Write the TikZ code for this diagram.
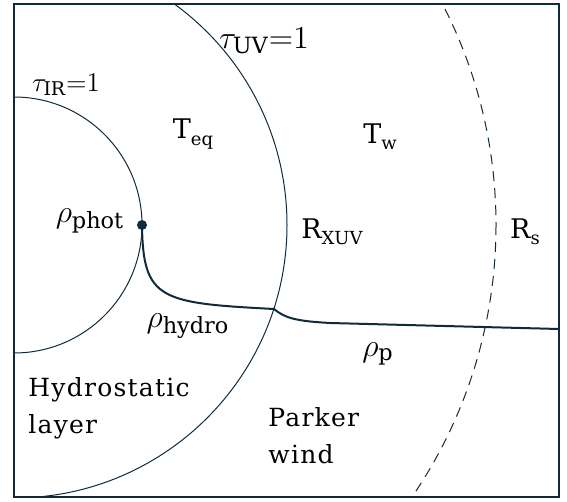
\RequirePackage{fix-cm}
\documentclass[tikz,border=0pt]{standalone}
\usepackage{fontspec}
\setmainfont{DejaVu Serif}
\newfontfamily\regionfont[LetterSpace=5]{DejaVu Serif}
\usepackage{tikz}
\usetikzlibrary{positioning,calc}
\definecolor{inkblue}{RGB}{16,42,58}
\newcommand{\lowsub}[1]{\raisebox{-0.45ex}{\fontsize{9}{10}\selectfont #1}}
\tikzset{
  boundary/.style={draw=inkblue, line width=0.5pt},
  sonic/.style={draw=inkblue, line width=0.5pt, dash pattern=on 5pt off 3.5pt},
  profile/.style={draw=inkblue, line width=1pt},
  lbl/.style={font=\fontsize{13.5}{16}\selectfont, inner sep=0pt},
  regionlbl/.style={font=\regionfont\fontsize{12.5}{18.5}\selectfont,
                    inner sep=0pt, align=left, anchor=north west},
  mathlbl/.style={font=\fontsize{16}{18}\selectfont, inner sep=0pt},
  photdot/.style={circle, fill=inkblue, inner sep=0pt, minimum size=5pt}
}

\begin{document}
\begin{tikzpicture}[x=0.5pt, y=-0.5pt]
    \def\cx{14} \def\cy{225}
    \useasboundingbox (0,0) rectangle (567,502);
    \coordinate (O) at (\cx,\cy);

    % shells, cut at the box
    \begin{scope}
      \clip (14,4) rectangle (559,497);
      \draw[boundary] (O) circle (128);
      \draw[boundary] (O) circle (273);
      \draw[sonic] (O) circle (482);
    \end{scope}

    % box
    \draw[inkblue, line width=1pt] (14,4) rectangle (559,497);

    % density profile
    \node[photdot] (ph) at (142,225) {};
    \coordinate (xuv)  at (274,309);
    \coordinate (rend) at (559,329);
    \draw[profile] (ph.center) .. controls (143,300) and (160,303) .. (xuv)
      .. controls (285,318) and (295,321) .. (330,323) -- (rend);

    % optical depths
    \node[mathlbl, font=\fontsize{13.5}{16}\selectfont] (tauir) at (66,85) {$\tau_{\mathrm{IR}}{=}1$};
    \node[mathlbl] (tauuv) at (264,41) {$\tau_{\mathrm{UV}}{=}1$};

    % temperatures and radii
    \node[lbl] (teq)  at (193,134) {T\lowsub{eq}};
    \node[lbl] (tw)   at (380,137) {T\lowsub{w}};
    \node[lbl] (rxuv) at (332,232) {R\lowsub{XUV}};
    \node[lbl] (rs)   at (525,232) {R\lowsub{s}};

    % densities
    \node[mathlbl, left=6pt of ph, yshift=2pt] (rphot) {$\rho_{\mathrm{phot}}$};
    \node[mathlbl] (rhydro) at (188,326) {$\rho_{\mathrm{hydro}}$};
    \node[mathlbl] (rp)     at (378,354) {$\rho_{\mathrm{p}}$};

    % regions
    \node[regionlbl] (hydro)  at (28,377) {Hydrostatic\\layer};
    \node[regionlbl] (parker) at (268,407) {Parker\\wind};
\end{tikzpicture}
\end{document}
